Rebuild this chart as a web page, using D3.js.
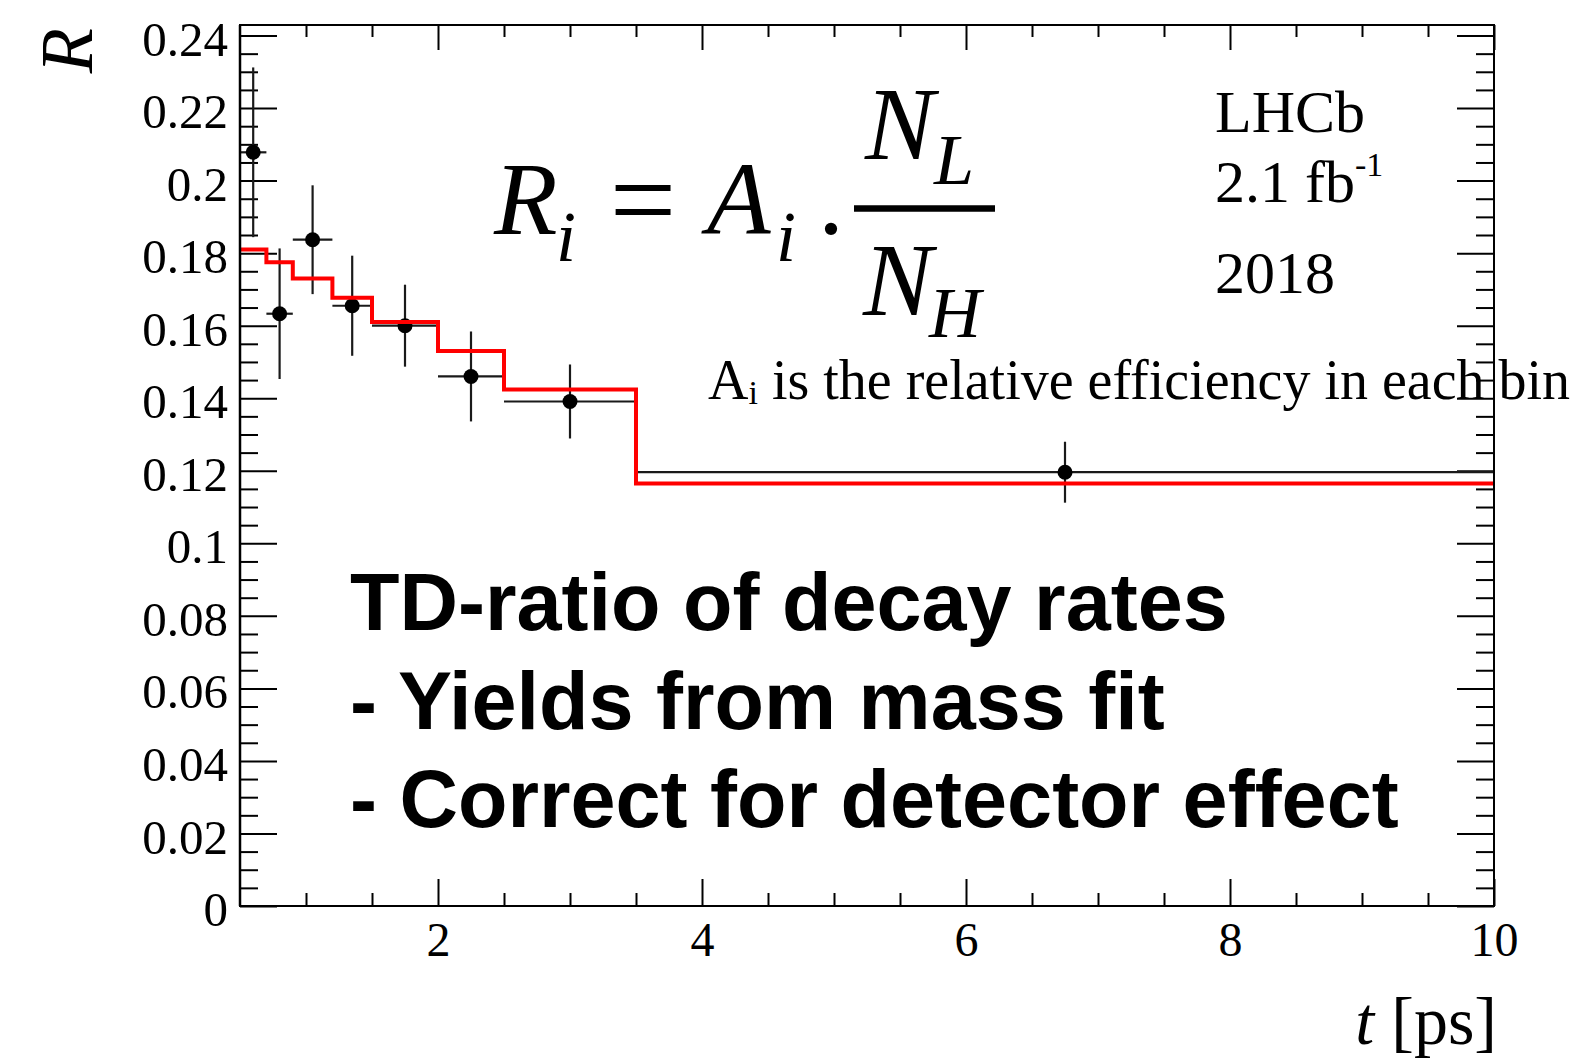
<!DOCTYPE html>
<html>
<head>
<meta charset="utf-8">
<script src="https://cdn.jsdelivr.net/npm/d3@7"></script>
<style>
  html, body { margin: 0; padding: 0; background: #ffffff; }
  svg { display: block; }
  .serif { font-family: "Liberation Serif", "Times New Roman", Times, serif; }
  .sans { font-family: "Liberation Sans", Arial, Helvetica, sans-serif; }
</style>
</head>
<body>
<script>
// Decay-time bin edges [ps]
const binEdges = [0.5, 0.7, 0.9, 1.2, 1.5, 2.0, 2.5, 3.5, 10];
// Measured ratio R in each bin and its uncertainty
const ratioValues = [0.2078, 0.1633, 0.1837, 0.1655, 0.1600, 0.1460, 0.1391, 0.1196];
const ratioErrors = [0.0234, 0.0180, 0.0150, 0.0138, 0.0113, 0.0124, 0.0102, 0.0084];
// Fitted model, one value per bin (red histogram)
const modelValues = [0.1810, 0.1775, 0.1730, 0.1677, 0.1610, 0.1530, 0.1424, 0.1165];

// Axis ticks and labels
const xTickValues = [2, 4, 6, 8, 10];
const xTickLabels = ["2", "4", "6", "8", "10"];
const yTickValues = [0, 0.02, 0.04, 0.06, 0.08, 0.1, 0.12, 0.14, 0.16, 0.18, 0.2, 0.22, 0.24];
const yTickLabels = ["0", "0.02", "0.04", "0.06", "0.08", "0.1", "0.12", "0.14", "0.16", "0.18", "0.2", "0.22", "0.24"];
const xDomain = [0.5, 10];
const yDomain = [0, 0.2429];

const W = 1583, H = 1062;
const frame = { left: 240, right: 1494, top: 25, bottom: 906 };

const svg = d3.select("body").append("svg")
  .attr("width", W).attr("height", H)
  .attr("viewBox", `0 0 ${W} ${H}`);
svg.append("rect").attr("width", W).attr("height", H).attr("fill", "#fff");

const x = d3.scaleLinear().domain(xDomain).range([frame.left, frame.right]);
const y = d3.scaleLinear().domain(yDomain).range([frame.bottom, frame.top]);

// minor tick positions: 4 subdivisions per major interval
const xMinor = d3.range(1.0, 10.0001, 0.5).filter(v => Math.abs(v / 2 - Math.round(v / 2)) > 1e-6);
const yMinor = d3.range(0, 0.2401, 0.005).filter(v => Math.abs(v / 0.02 - Math.round(v / 0.02)) > 1e-6);

function styleAxis(g) {
  g.select(".domain").remove();
  g.selectAll(".tick line").attr("stroke", "#000").attr("stroke-width", 2);
}

// bottom axis
svg.append("g").attr("transform", `translate(0,${frame.bottom})`)
  .call(d3.axisBottom(x).tickValues(xTickValues)
    .tickFormat((d, i) => xTickLabels[i]).tickSizeInner(-27).tickSizeOuter(0).tickPadding(16))
  .call(styleAxis)
  .call(g => g.selectAll("text").attr("class", "serif").attr("font-size", 48).attr("fill", "#000"));
svg.append("g").attr("transform", `translate(0,${frame.bottom})`)
  .call(d3.axisBottom(x).tickValues(xMinor).tickFormat("").tickSizeInner(-13).tickSizeOuter(0))
  .call(styleAxis);

// top axis (ticks only)
svg.append("g").attr("transform", `translate(0,${frame.top})`)
  .call(d3.axisTop(x).tickValues(xTickValues).tickFormat("").tickSizeInner(-25).tickSizeOuter(0))
  .call(styleAxis);
svg.append("g").attr("transform", `translate(0,${frame.top})`)
  .call(d3.axisTop(x).tickValues(xMinor).tickFormat("").tickSizeInner(-12).tickSizeOuter(0))
  .call(styleAxis);

// left axis
svg.append("g").attr("transform", `translate(${frame.left},0)`)
  .call(d3.axisLeft(y).tickValues(yTickValues)
    .tickFormat((d, i) => yTickLabels[i]).tickSizeInner(-37).tickSizeOuter(0).tickPadding(12))
  .call(styleAxis)
  .call(g => g.selectAll("text").attr("class", "serif").attr("font-size", 49)
    .attr("fill", "#000").attr("dy", "0.4em"));
svg.append("g").attr("transform", `translate(${frame.left},0)`)
  .call(d3.axisLeft(y).tickValues(yMinor).tickFormat("").tickSizeInner(-18).tickSizeOuter(0))
  .call(styleAxis);

// right axis (ticks only)
svg.append("g").attr("transform", `translate(${frame.right},0)`)
  .call(d3.axisRight(y).tickValues(yTickValues).tickFormat("").tickSizeInner(-37).tickSizeOuter(0))
  .call(styleAxis);
svg.append("g").attr("transform", `translate(${frame.right},0)`)
  .call(d3.axisRight(y).tickValues(yMinor).tickFormat("").tickSizeInner(-18).tickSizeOuter(0))
  .call(styleAxis);

// data: horizontal bin-width bars and vertical error bars
const bins = ratioValues.map((v, i) => ({
  lo: binEdges[i], hi: binEdges[i + 1], c: (binEdges[i] + binEdges[i + 1]) / 2,
  v: v, e: ratioErrors[i]
}));
const dataG = svg.append("g");
dataG.selectAll("line.hbar").data(bins).join("line").attr("class", "hbar")
  .attr("x1", d => x(d.lo)).attr("x2", d => x(d.hi))
  .attr("y1", d => y(d.v)).attr("y2", d => y(d.v))
  .attr("stroke", "#1a1a1a").attr("stroke-width", 2.2);
dataG.selectAll("line.vbar").data(bins).join("line").attr("class", "vbar")
  .attr("x1", d => x(d.c)).attr("x2", d => x(d.c))
  .attr("y1", d => y(d.v - d.e)).attr("y2", d => y(d.v + d.e))
  .attr("stroke", "#1a1a1a").attr("stroke-width", 2.2);

// model histogram (red step line)
const stepPts = modelValues.map((v, i) => [binEdges[i], v]);
stepPts.push([binEdges[binEdges.length - 1], modelValues[modelValues.length - 1]]);
svg.append("path")
  .attr("d", d3.line().x(d => x(d[0])).y(d => y(d[1])).curve(d3.curveStepAfter)(stepPts))
  .attr("fill", "none").attr("stroke", "#ff0000").attr("stroke-width", 4);

// markers
dataG.selectAll("circle").data(bins).join("circle")
  .attr("cx", d => x(d.c)).attr("cy", d => y(d.v)).attr("r", 7.5).attr("fill", "#000");

// axis titles
svg.append("text").attr("class", "serif")
  .attr("transform", "translate(92,28) rotate(-90)")
  .attr("text-anchor", "end").attr("font-size", 74).attr("font-style", "italic")
  .text("R");
const xt = svg.append("text").attr("class", "serif")
  .attr("x", 1497).attr("y", 1044).attr("text-anchor", "end").attr("font-size", 68);
xt.append("tspan").attr("font-style", "italic").text("t");
xt.append("tspan").text(" [ps]");

// experiment label
const lab = svg.append("g").attr("class", "serif").attr("font-size", 60).attr("fill", "#000");
lab.append("text").attr("x", 1215).attr("y", 132).text("LHCb");
const lumi = lab.append("text").attr("x", 1215).attr("y", 202);
lumi.append("tspan").text("2.1 fb");
lumi.append("tspan").attr("font-size", 34).attr("dy", -26).text("-1");
lab.append("text").attr("x", 1215).attr("y", 293).text("2018");

// formula R_i = A_i . N_L / N_H
const f = svg.append("g").attr("class", "serif").attr("fill", "#000");
f.append("text").attr("x", 494).attr("y", 234).attr("font-size", 104).attr("font-style", "italic").text("R");
f.append("text").attr("x", 556).attr("y", 261).attr("font-size", 72).attr("font-style", "italic").text("i");
f.append("text").attr("x", 643).attr("y", 240).attr("text-anchor", "middle").attr("font-size", 118).text("=");
f.append("text").attr("x", 707).attr("y", 234).attr("font-size", 104).attr("font-style", "italic").text("A");
f.append("text").attr("x", 776).attr("y", 261).attr("font-size", 72).attr("font-style", "italic").text("i");
f.append("text").attr("x", 818).attr("y", 234).attr("font-size", 104).text(".");
f.append("line").attr("x1", 854).attr("x2", 995).attr("y1", 208.5).attr("y2", 208.5)
  .attr("stroke", "#000").attr("stroke-width", 6.5);
f.append("text").attr("x", 865).attr("y", 159).attr("font-size", 104).attr("font-style", "italic").text("N");
f.append("text").attr("x", 934).attr("y", 184).attr("font-size", 72).attr("font-style", "italic").text("L");
f.append("text").attr("x", 863).attr("y", 315).attr("font-size", 104).attr("font-style", "italic").text("N");
f.append("text").attr("x", 929).attr("y", 337).attr("font-size", 72).attr("font-style", "italic").text("H");

// efficiency note
const note = svg.append("text").attr("class", "serif").attr("x", 708).attr("y", 399)
  .attr("font-size", 56).attr("fill", "#000");
note.append("tspan").text("A");
note.append("tspan").attr("font-size", 34).attr("dy", 5).text("i");
note.append("tspan").attr("dy", -5).text(" is the relative efficiency in each bin");

// summary text
const summary = ["TD-ratio of decay rates", "- Yields from mass fit", "- Correct for detector effect"];
svg.append("g").attr("class", "sans").attr("font-size", 81).attr("font-weight", "bold").attr("fill", "#000")
  .selectAll("text").data(summary).join("text")
  .attr("x", 350).attr("y", (d, i) => 630 + i * 98.5).text(d => d);

// frame
svg.append("rect").attr("x", frame.left).attr("y", frame.top)
  .attr("width", frame.right - frame.left).attr("height", frame.bottom - frame.top)
  .attr("fill", "none").attr("stroke", "#000").attr("stroke-width", 2);
svg.append("line").attr("x1", frame.left).attr("x2", frame.left)
  .attr("y1", frame.top).attr("y2", frame.bottom).attr("stroke", "#000").attr("stroke-width", 2.5);
</script>
</body>
</html>
